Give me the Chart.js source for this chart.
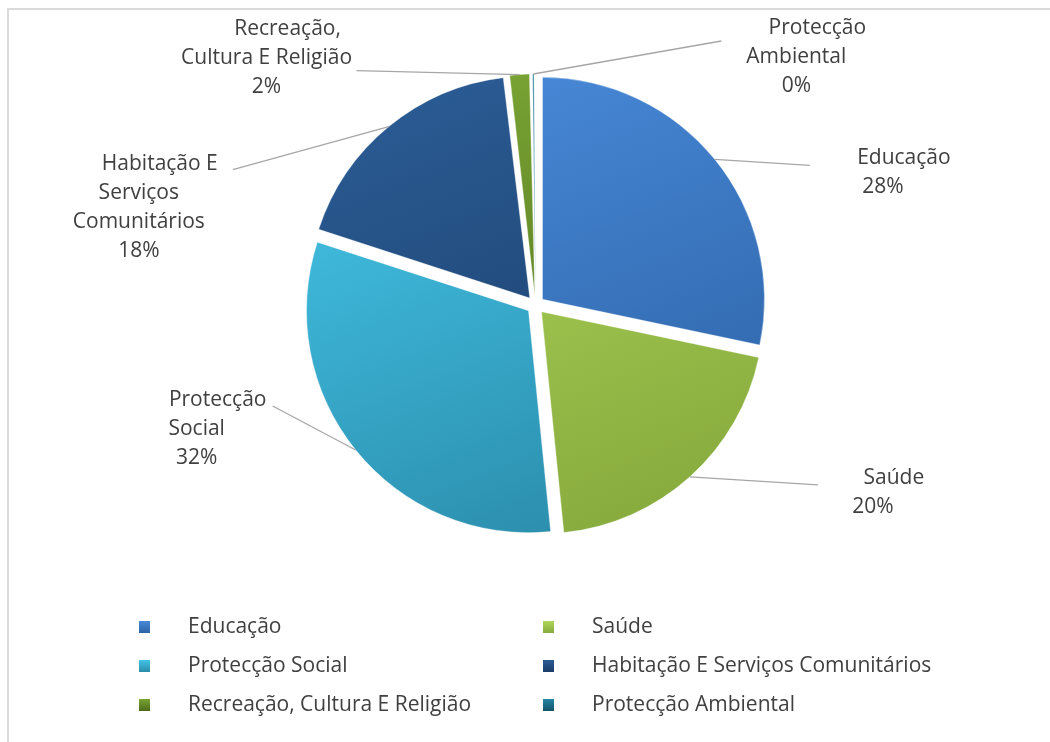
<!DOCTYPE html>
<html>
<head>
<meta charset="utf-8">
<script src="https://cdn.jsdelivr.net/npm/chart.js@4.4.1/dist/chart.umd.min.js"></script>
<style>
  html, body { margin: 0; padding: 0; background: #fff; }
  #wrap { position: relative; width: 1050px; height: 742px; overflow: hidden; }
  #frame { position: absolute; left: 7px; top: 8px; right: -10px; bottom: -10px;
           border-left: 2px solid #dadada; border-top: 2px solid #dadada; }
  #pie { position: absolute; left: 0; top: 0; }
</style>
</head>
<body>
<div id="wrap">
  <div id="frame"></div>
  <canvas id="pie" width="1050" height="742"></canvas>
</div>
<script>
// data
var categories = ["Educação", "Saúde", "Protecção Social", "Habitação E Serviços Comunitários",
                  "Recreação, Cultura E Religião", "Protecção Ambiental"];
var shares = [28.3, 20.1, 31.6, 18.1, 1.6, 0.3];
var labelLines = [["Educação"], ["Saúde"], ["Protecção", "Social"],
                  ["Habitação E", "Serviços", "Comunitários"],
                  ["Recreação,", "Cultura E Religião"], ["Protecção", "Ambiental"]];

// styles
var lightColors = ["#4889d8", "#b0d65a", "#43c3e6", "#2a5b93", "#7aa534", "#2585a6"];
var darkColors  = ["#2d63a6", "#87aa3d", "#2b8cab", "#1b3d69", "#4c6b1c", "#145468"];
var textColor = "#404040";
var labelFont = "21px 'Open Sans'";
var pieRadius = 222;
var explode = 9;

// where each outside label sits, relative to the slice edge (leader end) and to the leader end (text)
var labelPlacement = [
  {lx: 95,   ly: 6,   tx: 73,  ty: -7},
  {lx: 128,  ly: 8,   tx: 55,  ty: -7},
  {lx: -83,  ly: -44, tx: -76, ty: -6},
  {lx: -156, ly: 43,  tx: -94, ty: -6},
  {lx: -163, ly: -4,  tx: -90, ty: -42},
  {lx: 188,  ly: -33, tx: 75,  ty: -13}
];

function sliceFill(context) {
  var chart = context.chart;
  var area = chart.chartArea;
  var i = context.dataIndex;
  if (!area) return lightColors[i];
  var cx = (area.left + area.right) / 2, cy = (area.top + area.bottom) / 2;
  var g = chart.ctx.createLinearGradient(cx - pieRadius * 0.4, cy - pieRadius, cx + pieRadius * 0.4, cy + pieRadius);
  g.addColorStop(0, lightColors[i]);
  g.addColorStop(1, darkColors[i]);
  return g;
}

var thinSliceFix = {
  id: "thinSliceFix",
  afterUpdate: function(chart) {
    chart.getDatasetMeta(0).data.forEach(function(arc) {
      var c = arc.endAngle - arc.startAngle;
      arc.outerRadius = pieRadius - explode * (1 - Math.sin(Math.min(Math.PI, c)));
    });
  }
};

var outsideLabels = {
  id: "outsideLabels",
  afterDatasetsDraw: function(chart) {
    var ctx = chart.ctx;
    var total = shares.reduce(function(a, b) { return a + b; }, 0);
    ctx.save();
    ctx.font = labelFont;
    ctx.fillStyle = textColor;
    ctx.textAlign = "center";
    ctx.textBaseline = "middle";
    chart.getDatasetMeta(0).data.forEach(function(arc, i) {
      var mid = (arc.startAngle + arc.endAngle) / 2;
      var r = pieRadius + explode;
      var sx = arc.x + Math.cos(mid) * r, sy = arc.y + Math.sin(mid) * r;
      var p = labelPlacement[i];
      var ex = sx + p.lx, ey = sy + p.ly;
      ctx.strokeStyle = "#a6a6a6";
      ctx.lineWidth = 1.3;
      ctx.beginPath();
      ctx.moveTo(sx, sy);
      ctx.lineTo(ex, ey);
      ctx.stroke();
      var lines = labelLines[i].concat([Math.round(shares[i] / total * 100) + "%"]);
      var bx = ex + p.tx, by = ey + p.ty;
      lines.forEach(function(t, k) {
        ctx.fillText(t, k === 0 ? bx + 21 : bx, by + k * 29);
      });
    });
    ctx.restore();
  }
};

var gridLegend = {
  id: "gridLegend",
  afterDraw: function(chart) {
    var ctx = chart.ctx;
    ctx.save();
    ctx.font = labelFont;
    ctx.textBaseline = "middle";
    ctx.textAlign = "left";
    categories.forEach(function(name, i) {
      var col = i % 2, row = Math.floor(i / 2);
      var mx = 139 + col * 404, my = 627 + row * 39;
      var g = ctx.createLinearGradient(0, my - 6, 0, my + 6);
      g.addColorStop(0, lightColors[i]);
      g.addColorStop(1, darkColors[i]);
      ctx.fillStyle = g;
      ctx.fillRect(mx, my - 6, 11, 12);
      ctx.fillStyle = textColor;
      ctx.fillText(name, mx + 49, my);
    });
    ctx.restore();
  }
};

new Chart(document.getElementById("pie"), {
  type: "pie",
  data: {
    labels: categories,
    datasets: [{
      data: shares,
      backgroundColor: sliceFill,
      borderColor: "rgba(255,255,255,0.35)",
      borderWidth: 1,
      offset: explode * 4
    }]
  },
  options: {
    responsive: false,
    animation: false,
    radius: pieRadius,
    layout: { padding: { left: 21, right: 0, top: 0, bottom: 132 } },
    plugins: {
      legend: { display: false },
      title: { display: false },
      tooltip: { enabled: false }
    }
  },
  plugins: [thinSliceFix, outsideLabels, gridLegend]
});
</script>
</body>
</html>
